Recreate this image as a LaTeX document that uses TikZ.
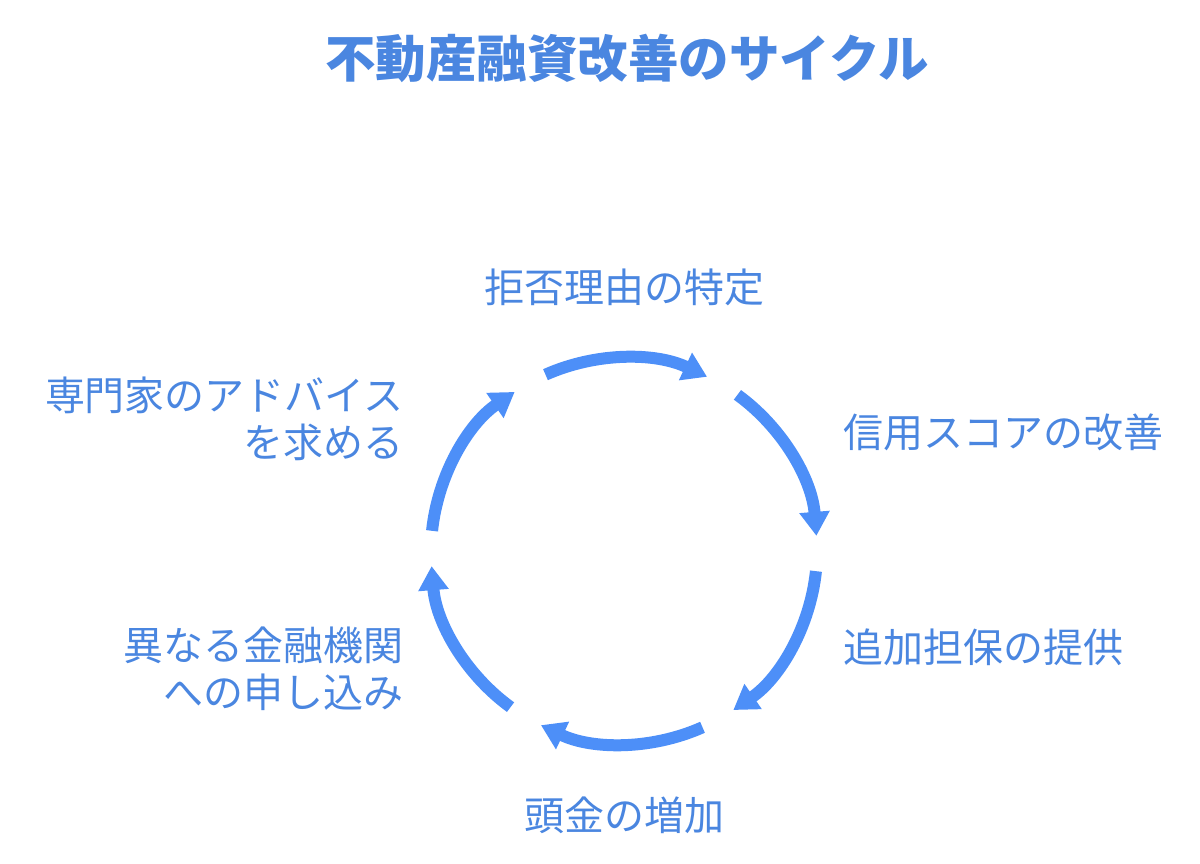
\documentclass[tikz,border=0pt]{standalone}
\usepackage{fontspec}
\newfontfamily\jp{Noto Sans CJK JP}
\usetikzlibrary{arrows.meta}
\definecolor{txtblue}{HTML}{4A86E0}
\definecolor{arrblue}{HTML}{4D8FF8}
\tikzset{
  lbl/.style={font=\jp\fontsize{40}{47}\selectfont, text=txtblue, inner sep=0pt},
  ttl/.style={font=\jp\bfseries\fontsize{50.5}{56}\selectfont, text=txtblue, inner sep=0pt},
  cyc/.style={draw=arrblue, line width=12pt, -{Triangle[width=29pt,length=24pt]}}
}
\begin{document}
\begin{tikzpicture}[x=1pt,y=1pt]
\useasboundingbox (0,0) rectangle (1200,864);
\node[ttl] (title) at (627,806) {不動産融資改善のサイクル};
\coordinate (ctr) at (624,313);
\foreach \c in {90,30,-30,-90,-150,150}{
  \draw[cyc] ([shift={({\c+24}:193)}]ctr) arc[start angle={\c+24}, end angle={\c-25.5}, radius=193];
}
\node[lbl] (s1) at (624,577) {拒否理由の特定};
\node[lbl, anchor=west] (s2) at (843,432) {信用スコアの改善};
\node[lbl, anchor=west] (s3) at (843,217) {追加担保の提供};
\node[lbl] (s4) at (624,49) {頭金の増加};
\node[lbl, anchor=east, align=right] (s5) at (404,195.5) {異なる金融機関\\への申し込み};
\node[lbl, anchor=east, align=right] (s6) at (404,445) {専門家のアドバイス\\を求める};
\end{tikzpicture}
\end{document}
